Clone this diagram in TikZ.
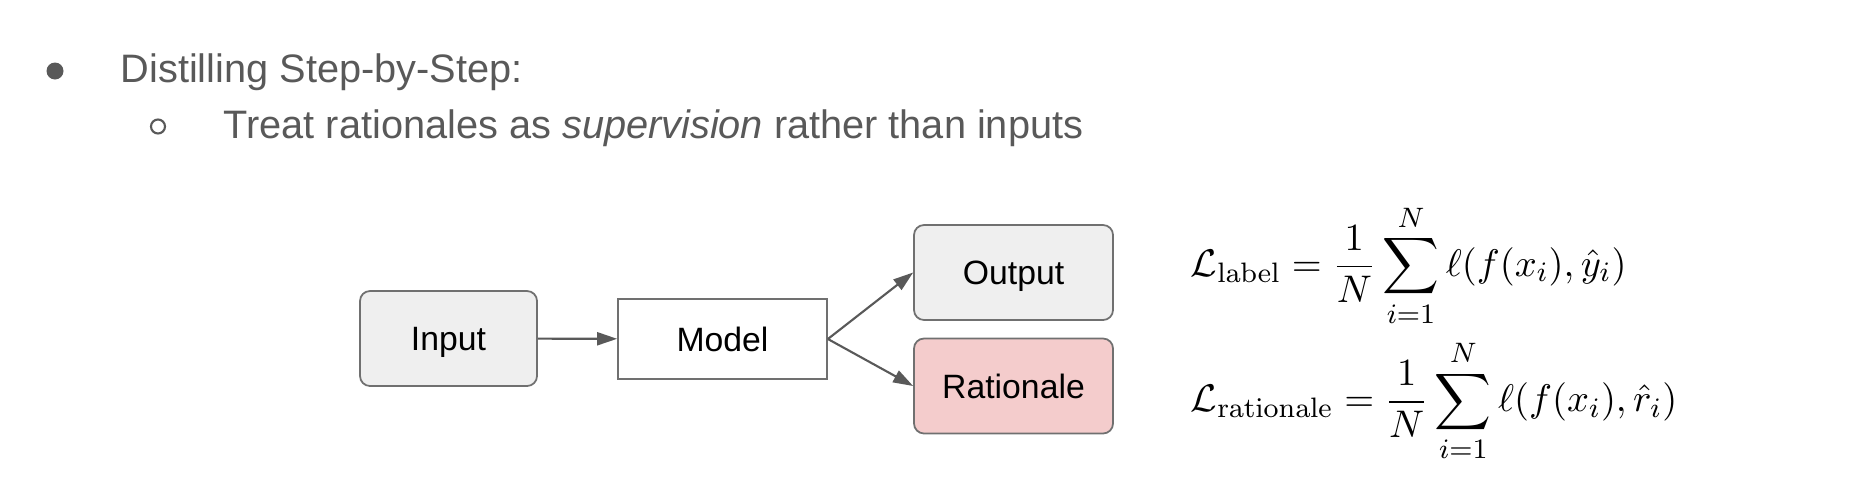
\documentclass[tikz,border=0pt]{standalone}
\usepackage{amsmath,amssymb}
\usepackage[no-math]{fontspec}
\setmainfont{Liberation Sans}
\usepackage{xcolor}
\usepackage{tikz}
\usetikzlibrary{arrows.meta}

\definecolor{bodygray}{HTML}{595959}
\definecolor{edgegray}{HTML}{707070}
\definecolor{boxgray}{HTML}{EFEFEF}
\definecolor{boxred}{HTML}{F4CCCC}

\begin{document}
\begin{tikzpicture}[
  stage/.style={draw=edgegray,line width=0.5pt,rounded corners=1mm,
    minimum width=1.99cm,minimum height=0.95cm,inner sep=0pt,
    text height=2.4mm,text depth=0pt,
    font=\fontsize{9.6}{11}\selectfont},
  flow/.style={-{Triangle[length=2mm,width=1.3mm]},draw=bodygray,line width=0.6pt},
  bullettext/.style={anchor=base west,text=bodygray,inner sep=0pt,
    font=\fontsize{11.3}{13}\selectfont},
  loss/.style={anchor=west,inner sep=0pt,font=\fontsize{11.2}{13}\selectfont}
]
\useasboundingbox (0,0) rectangle (18.6,-4.85);

% bullet list
\fill[bodygray] (0.55,-0.71) circle (0.085);
\node[bullettext] (title) at (1.20,-0.825) {Distilling Step-by-Step:};
\draw[bodygray,line width=0.6pt] (1.58,-1.265) circle (0.07);
\node[bullettext] (sub) at (2.23,-1.38) {Treat rationales as \textit{supervision} rather than inputs};

% boxes
\node[stage,fill=boxgray,minimum width=1.77cm] (input) at (4.485,-3.385) {Input};
\node[stage,fill=white,rounded corners=0pt,minimum width=2.09cm,minimum height=0.80cm]
  (model) at (7.225,-3.39) {Model};
\node[stage,fill=boxgray] (output) at (10.135,-2.725) {Output};
\node[stage,fill=boxred] (rationale) at (10.135,-3.86) {Rationale};

% arrows
\draw[flow] (input) -- (model);
\draw[flow] (model.east) -- (output.west);
\draw[flow] (model.east) -- (rationale.west);

% losses
\node[loss] (labelloss) at (11.9,-2.655)
  {$\displaystyle \mathcal{L}_{\mathrm{label}} = \frac{1}{N}\sum_{i=1}^{N}\ell(f(x_i),\hat{y}_i)$};
\node[loss] (ratloss) at (11.9,-4.01)
  {$\displaystyle \mathcal{L}_{\mathrm{rationale}} = \frac{1}{N}\sum_{i=1}^{N}\ell(f(x_i),\hat{r}_i)$};

\end{tikzpicture}
\end{document}
